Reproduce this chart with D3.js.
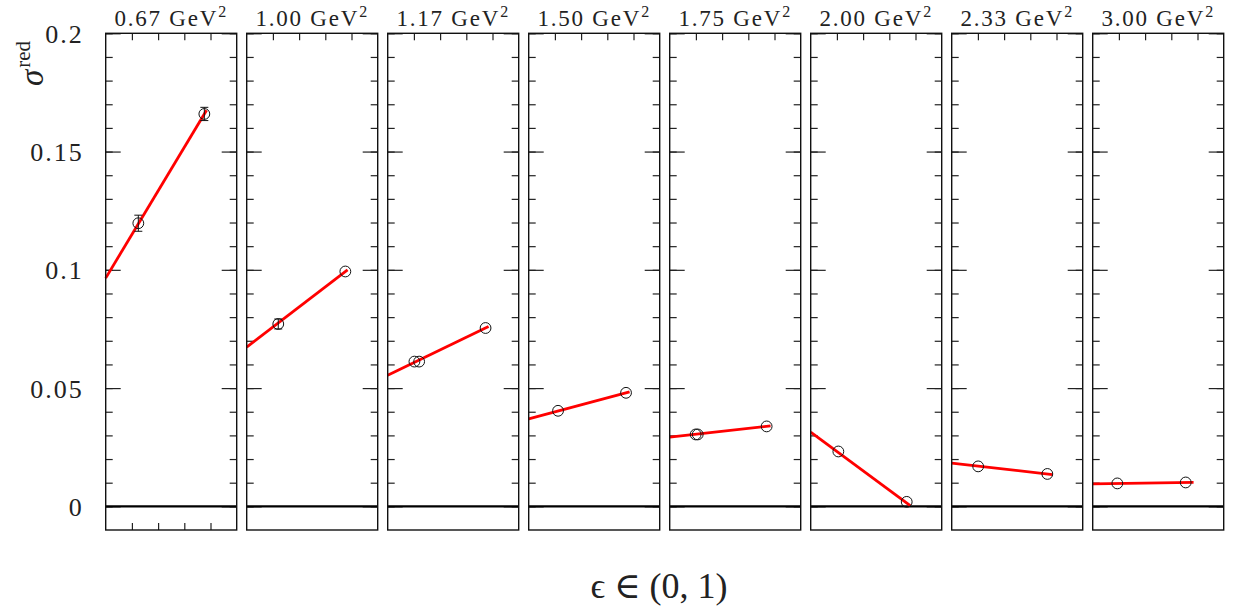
<!DOCTYPE html>
<html>
<head>
<meta charset="utf-8">
<script src="https://cdn.jsdelivr.net/npm/d3@7"></script>
<style>
  html, body { margin: 0; padding: 0; background: #fff; }
  text { font-family: "Liberation Serif", "DejaVu Serif", serif; fill: #222; }
</style>
</head>
<body>
<svg id="chart" width="1233" height="609"></svg>
<script>
// ---- data ----
const q2Labels = ["0.67", "1.00", "1.17", "1.50", "1.75", "2.00", "2.33", "3.00"];
const pointEps = [
  [0.249, 0.753], [0.241, 0.753], [0.204, 0.240, 0.747], [0.224, 0.743],
  [0.198, 0.214, 0.740], [0.211, 0.733], [0.202, 0.730], [0.188, 0.710]
];
const pointVal = [
  [0.1197, 0.1659], [0.0771, 0.0993], [0.0612, 0.0612, 0.0754], [0.0404, 0.0480],
  [0.0304, 0.0304, 0.0338], [0.0232, 0.0019], [0.0169, 0.0137], [0.0097, 0.0101]
];
const pointErr = [
  [0.0034, 0.0028], [0.0021, 0.0], [0, 0, 0], [0, 0],
  [0, 0, 0], [0, 0], [0, 0], [0, 0]
];
const fitStart = [0.0965, 0.0673, 0.0554, 0.0370, 0.0293, 0.0314, 0.0183, 0.0095];
const fitEnd = [0.1675, 0.1000, 0.0760, 0.0484, 0.0340, 0.0003, 0.0134, 0.0101];
const fitEndEps = [0.77, 0.77, 0.77, 0.77, 0.77, 0.76, 0.77, 0.77];
const yTickLabels = [0, 0.05, 0.1, 0.15, 0.2];
const yMinorTicks = d3.range(0, 0.2001, 0.01).map(v => +v.toFixed(2));
const xTicks = [0.2, 0.4, 0.6, 0.8];

// ---- layout ----
const svg = d3.select("#chart");
const mLeft = 105.7, mTop = 33.3, pw = 131, ph = 496.7, gap = 10;
const x = d3.scaleLinear().domain([0, 1]).range([0, pw]);
const y = d3.scaleLinear().domain([-0.01, 0.2]).range([ph, 0]);

q2Labels.forEach((lab, i) => {
  const g = svg.append("g").attr("transform", `translate(${mLeft + i * (pw + gap)},${mTop})`);

  // minor y ticks left/right
  g.append("g").call(d3.axisRight(y).tickValues(yMinorTicks).tickSize(7).tickFormat(""))
    .call(s => s.select(".domain").remove());
  g.append("g").attr("transform", `translate(${pw},0)`)
    .call(d3.axisLeft(y).tickValues(yMinorTicks).tickSize(7).tickFormat(""))
    .call(s => s.select(".domain").remove());
  // major y ticks
  g.append("g").call(d3.axisRight(y).tickValues(yTickLabels).tickSize(15).tickFormat(""))
    .call(s => s.select(".domain").remove());
  g.append("g").attr("transform", `translate(${pw},0)`)
    .call(d3.axisLeft(y).tickValues(yTickLabels).tickSize(15).tickFormat(""))
    .call(s => s.select(".domain").remove());
  // top x ticks
  g.append("g").call(d3.axisBottom(x).tickValues(xTicks).tickSize(7).tickFormat(""))
    .call(s => s.select(".domain").remove());
  if (i === 0) {
    g.append("g").attr("transform", `translate(0,${ph})`)
      .call(d3.axisTop(x).tickValues(xTicks).tickSize(7).tickFormat(""))
      .call(s => s.select(".domain").remove());
    // y tick labels
    const ya = g.append("g")
      .call(d3.axisLeft(y).tickValues(yTickLabels).tickSize(0).tickPadding(22)
        .tickFormat(d => d3.format("")(d)));
    ya.select(".domain").remove();
    ya.selectAll("text").attr("font-size", 26).attr("font-family", "Liberation Serif")
      .style("letter-spacing", "2px").attr("fill", "#222").attr("dy", "0.35em");
  }
  g.selectAll(".tick line").attr("stroke", "#222").attr("stroke-width", 1.2);

  // zero line
  g.append("line").attr("x1", 0).attr("x2", pw).attr("y1", y(0)).attr("y2", y(0))
    .attr("stroke", "#000").attr("stroke-width", 2.2);

  // fit line
  g.append("line")
    .attr("x1", x(0)).attr("y1", y(fitStart[i]))
    .attr("x2", x(fitEndEps[i])).attr("y2", y(fitEnd[i]))
    .attr("stroke", "#ff0000").attr("stroke-width", 2.8);

  // points
  const pts = pointEps[i].map((e, k) => ({ e, v: pointVal[i][k], err: pointErr[i][k] }));
  const pg = g.append("g");
  pts.forEach(p => {
    if (p.err > 0) {
      pg.append("line").attr("x1", x(p.e)).attr("x2", x(p.e))
        .attr("y1", y(p.v - p.err)).attr("y2", y(p.v + p.err))
        .attr("stroke", "#111").attr("stroke-width", 1);
      [p.v - p.err, p.v + p.err].forEach(v => {
        pg.append("line").attr("x1", x(p.e) - 4).attr("x2", x(p.e) + 4)
          .attr("y1", y(v)).attr("y2", y(v)).attr("stroke", "#111").attr("stroke-width", 1);
      });
    }
    pg.append("circle").attr("cx", x(p.e)).attr("cy", y(p.v)).attr("r", 5.4)
      .attr("fill", "none").attr("stroke", "#111").attr("stroke-width", 1);
  });

  // frame
  g.append("rect").attr("x", 0).attr("y", 0).attr("width", pw).attr("height", ph)
    .attr("fill", "none").attr("stroke", "#111").attr("stroke-width", 1.4);

  // title
  const t = svg.append("text")
    .attr("x", mLeft + i * (pw + gap) + pw / 2).attr("y", 26)
    .attr("text-anchor", "middle").attr("font-size", 23)
    .style("letter-spacing", "1.8px");
  t.append("tspan").text(lab + " GeV");
  t.append("tspan").attr("font-size", 16).attr("dy", -9).text("2");
});

// axis labels
svg.append("text").attr("x", 659).attr("y", 598).attr("text-anchor", "middle")
  .attr("font-size", 36)
  .text("ϵ ∈ (0, 1)");

const yl = svg.append("text")
  .attr("transform", "translate(43,86) rotate(-90)")
  .attr("font-size", 33);
yl.append("tspan").style("font-style", "italic").text("σ");
yl.append("tspan").attr("font-size", 21).attr("dy", -13).attr("dx", 2).text("red");
</script>
</body>
</html>
